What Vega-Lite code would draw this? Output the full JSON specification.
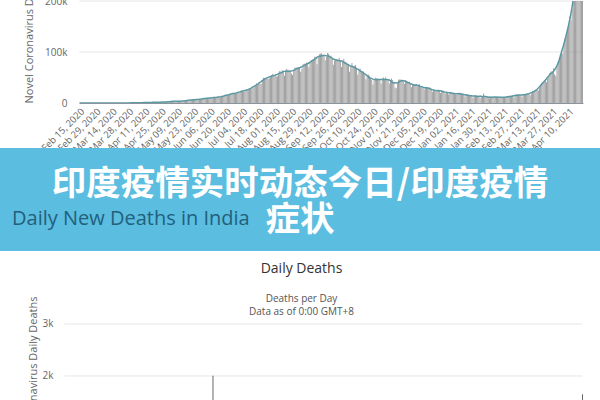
{
"$schema": "https://vega.github.io/schema/vega-lite/v6.json",
"padding": {"top": -53, "left": 0, "right": 0, "bottom": 0},
"background": "white",
"config": {
 "font": "Open Sans",
 "view": {"stroke": null},
 "axis": {"labelColor": "#666", "titleColor": "#666", "titleFontWeight": "normal", "labelFont": "Open Sans", "titleFont": "Open Sans"},
 "title": {"font": "Open Sans"}
},
"datasets": {"india": [
{"d":"2020-02-15","c":0,"m":0},{"d":"2020-02-16","c":0,"m":0},{"d":"2020-02-17","c":0,"m":0},{"d":"2020-02-18","c":0,"m":0},{"d":"2020-02-19","c":0,"m":0},{"d":"2020-02-20","c":0,"m":0},{"d":"2020-02-21","c":0,"m":0},{"d":"2020-02-22","c":0,"m":0},{"d":"2020-02-23","c":0,"m":0},{"d":"2020-02-24","c":0,"m":0},{"d":"2020-02-25","c":0,"m":0},{"d":"2020-02-26","c":0,"m":0},{"d":"2020-02-27","c":0,"m":0},{"d":"2020-02-28","c":0,"m":0},{"d":"2020-02-29","c":0,"m":0},
{"d":"2020-03-01","c":0,"m":0},{"d":"2020-03-02","c":2,"m":0},{"d":"2020-03-03","c":1,"m":0},{"d":"2020-03-04","c":22,"m":0},{"d":"2020-03-05","c":2,"m":0},{"d":"2020-03-06","c":1,"m":0},{"d":"2020-03-07","c":3,"m":0},{"d":"2020-03-08","c":5,"m":0},{"d":"2020-03-09","c":9,"m":0},{"d":"2020-03-10","c":15,"m":0},{"d":"2020-03-11","c":8,"m":1},{"d":"2020-03-12","c":10,"m":0},{"d":"2020-03-13","c":10,"m":1},{"d":"2020-03-14","c":23,"m":0},{"d":"2020-03-15","c":12,"m":0},{"d":"2020-03-16","c":14,"m":0},{"d":"2020-03-17","c":25,"m":1},{"d":"2020-03-18","c":28,"m":0},{"d":"2020-03-19","c":44,"m":1},{"d":"2020-03-20","c":63,"m":0},{"d":"2020-03-21","c":79,"m":1},{"d":"2020-03-22","c":100,"m":3},{"d":"2020-03-23","c":90,"m":2},{"d":"2020-03-24","c":75,"m":1},{"d":"2020-03-25","c":105,"m":2},{"d":"2020-03-26","c":87,"m":6},{"d":"2020-03-27","c":153,"m":3},{"d":"2020-03-28","c":149,"m":6},{"d":"2020-03-29","c":106,"m":3},{"d":"2020-03-30","c":227,"m":13},{"d":"2020-03-31","c":146,"m":6},
{"d":"2020-04-01","c":601,"m":15},{"d":"2020-04-02","c":545,"m":18},{"d":"2020-04-03","c":478,"m":13},{"d":"2020-04-04","c":513,"m":15},{"d":"2020-04-05","c":570,"m":13},{"d":"2020-04-06","c":561,"m":32},{"d":"2020-04-07","c":569,"m":30},{"d":"2020-04-08","c":485,"m":13},{"d":"2020-04-09","c":591,"m":35},{"d":"2020-04-10","c":896,"m":40},{"d":"2020-04-11","c":768,"m":32},{"d":"2020-04-12","c":918,"m":34},{"d":"2020-04-13","c":1248,"m":35},{"d":"2020-04-14","c":1034,"m":38},{"d":"2020-04-15","c":835,"m":29},{"d":"2020-04-16","c":1108,"m":37},{"d":"2020-04-17","c":922,"m":28},{"d":"2020-04-18","c":1370,"m":35},{"d":"2020-04-19","c":1893,"m":31},{"d":"2020-04-20","c":924,"m":29},{"d":"2020-04-21","c":1541,"m":54},{"d":"2020-04-22","c":1290,"m":44},{"d":"2020-04-23","c":1707,"m":40},{"d":"2020-04-24","c":1752,"m":37},{"d":"2020-04-25","c":1838,"m":57},{"d":"2020-04-26","c":1607,"m":56},{"d":"2020-04-27","c":1568,"m":58},{"d":"2020-04-28","c":1902,"m":71},{"d":"2020-04-29","c":1705,"m":67},{"d":"2020-04-30","c":1801,"m":77},
{"d":"2020-05-01","c":2396,"m":77},{"d":"2020-05-02","c":2564,"m":92},{"d":"2020-05-03","c":2952,"m":140},{"d":"2020-05-04","c":3656,"m":103},{"d":"2020-05-05","c":2971,"m":98},{"d":"2020-05-06","c":3602,"m":128},{"d":"2020-05-07","c":3344,"m":96},{"d":"2020-05-08","c":3339,"m":97},{"d":"2020-05-09","c":3175,"m":115},{"d":"2020-05-10","c":4311,"m":120},{"d":"2020-05-11","c":3592,"m":87},{"d":"2020-05-12","c":3562,"m":121},{"d":"2020-05-13","c":3726,"m":134},{"d":"2020-05-14","c":3991,"m":100},{"d":"2020-05-15","c":3808,"m":104},{"d":"2020-05-16","c":4794,"m":120},{"d":"2020-05-17","c":5050,"m":157},{"d":"2020-05-18","c":4630,"m":134},{"d":"2020-05-19","c":6147,"m":133},{"d":"2020-05-20","c":5553,"m":137},{"d":"2020-05-21","c":6198,"m":148},{"d":"2020-05-22","c":6629,"m":147},{"d":"2020-05-23","c":6154,"m":142},{"d":"2020-05-24","c":6868,"m":156},{"d":"2020-05-25","c":7113,"m":170},{"d":"2020-05-26","c":6414,"m":147},{"d":"2020-05-27","c":6566,"m":194},{"d":"2020-05-28","c":7246,"m":175},{"d":"2020-05-29","c":7254,"m":265},{"d":"2020-05-30","c":8336,"m":193},{"d":"2020-05-31","c":8782,"m":223},
{"d":"2020-06-01","c":7761,"m":201},{"d":"2020-06-02","c":8821,"m":222},{"d":"2020-06-03","c":9633,"m":259},{"d":"2020-06-04","c":9889,"m":273},{"d":"2020-06-05","c":9471,"m":286},{"d":"2020-06-06","c":10438,"m":297},{"d":"2020-06-07","c":10864,"m":261},{"d":"2020-06-08","c":8442,"m":265},{"d":"2020-06-09","c":9987,"m":331},{"d":"2020-06-10","c":10956,"m":279},{"d":"2020-06-11","c":11929,"m":396},{"d":"2020-06-12","c":11320,"m":386},{"d":"2020-06-13","c":12023,"m":311},{"d":"2020-06-14","c":11502,"m":325},{"d":"2020-06-15","c":10667,"m":380},{"d":"2020-06-16","c":12881,"m":334},{"d":"2020-06-17","c":13586,"m":2003},{"d":"2020-06-18","c":14516,"m":336},{"d":"2020-06-19","c":15413,"m":375},{"d":"2020-06-20","c":14821,"m":306},{"d":"2020-06-21","c":14933,"m":312},{"d":"2020-06-22","c":15968,"m":465},{"d":"2020-06-23","c":16922,"m":418},{"d":"2020-06-24","c":17296,"m":407},{"d":"2020-06-25","c":18552,"m":384},{"d":"2020-06-26","c":19906,"m":410},{"d":"2020-06-27","c":19459,"m":380},{"d":"2020-06-28","c":18522,"m":418},{"d":"2020-06-29","c":18653,"m":507},{"d":"2020-06-30","c":19148,"m":434},
{"d":"2020-07-01","c":20903,"m":379},{"d":"2020-07-02","c":22771,"m":442},{"d":"2020-07-03","c":24850,"m":613},{"d":"2020-07-04","c":24248,"m":425},{"d":"2020-07-05","c":22252,"m":467},{"d":"2020-07-06","c":22752,"m":482},{"d":"2020-07-07","c":24879,"m":487},{"d":"2020-07-08","c":26506,"m":475},{"d":"2020-07-09","c":27114,"m":519},{"d":"2020-07-10","c":28637,"m":551},{"d":"2020-07-11","c":28701,"m":500},{"d":"2020-07-12","c":28498,"m":553},{"d":"2020-07-13","c":29429,"m":582},{"d":"2020-07-14","c":32695,"m":606},{"d":"2020-07-15","c":34956,"m":687},{"d":"2020-07-16","c":38902,"m":543},{"d":"2020-07-17","c":34884,"m":671},{"d":"2020-07-18","c":40425,"m":681},{"d":"2020-07-19","c":37148,"m":587},{"d":"2020-07-20","c":37724,"m":648},{"d":"2020-07-21","c":45720,"m":1129},{"d":"2020-07-22","c":49310,"m":740},{"d":"2020-07-23","c":48916,"m":757},{"d":"2020-07-24","c":48661,"m":705},{"d":"2020-07-25","c":49931,"m":708},{"d":"2020-07-26","c":47703,"m":654},{"d":"2020-07-27","c":48513,"m":768},{"d":"2020-07-28","c":52123,"m":775},{"d":"2020-07-29","c":55079,"m":779},{"d":"2020-07-30","c":57118,"m":764},{"d":"2020-07-31","c":54735,"m":853},
{"d":"2020-08-01","c":52972,"m":771},{"d":"2020-08-02","c":52050,"m":803},{"d":"2020-08-03","c":52509,"m":857},{"d":"2020-08-04","c":56282,"m":904},{"d":"2020-08-05","c":62538,"m":886},{"d":"2020-08-06","c":61537,"m":933},{"d":"2020-08-07","c":64399,"m":861},{"d":"2020-08-08","c":62064,"m":1007},{"d":"2020-08-09","c":53601,"m":871},{"d":"2020-08-10","c":60963,"m":834},{"d":"2020-08-11","c":66999,"m":942},{"d":"2020-08-12","c":64553,"m":1007},{"d":"2020-08-13","c":65002,"m":996},{"d":"2020-08-14","c":63490,"m":944},{"d":"2020-08-15","c":57981,"m":941},{"d":"2020-08-16","c":55079,"m":876},{"d":"2020-08-17","c":64531,"m":1092},{"d":"2020-08-18","c":69652,"m":977},{"d":"2020-08-19","c":68898,"m":983},{"d":"2020-08-20","c":69878,"m":945},{"d":"2020-08-21","c":70488,"m":912},{"d":"2020-08-22","c":69239,"m":836},{"d":"2020-08-23","c":61408,"m":848},{"d":"2020-08-24","c":67151,"m":1059},{"d":"2020-08-25","c":75760,"m":1023},{"d":"2020-08-26","c":77266,"m":1057},{"d":"2020-08-27","c":76472,"m":1021},{"d":"2020-08-28","c":78761,"m":948},{"d":"2020-08-29","c":78512,"m":971},{"d":"2020-08-30","c":69921,"m":819},{"d":"2020-08-31","c":78357,"m":1045},
{"d":"2020-09-01","c":83883,"m":1043},{"d":"2020-09-02","c":83341,"m":1096},{"d":"2020-09-03","c":86432,"m":1089},{"d":"2020-09-04","c":90632,"m":1065},{"d":"2020-09-05","c":90802,"m":1016},{"d":"2020-09-06","c":75809,"m":1133},{"d":"2020-09-07","c":89706,"m":1115},{"d":"2020-09-08","c":95735,"m":1172},{"d":"2020-09-09","c":96551,"m":1209},{"d":"2020-09-10","c":97570,"m":1201},{"d":"2020-09-11","c":94372,"m":1114},{"d":"2020-09-12","c":92071,"m":1136},{"d":"2020-09-13","c":83809,"m":1054},{"d":"2020-09-14","c":90123,"m":1290},{"d":"2020-09-15","c":97894,"m":1132},{"d":"2020-09-16","c":96424,"m":1174},{"d":"2020-09-17","c":93337,"m":1247},{"d":"2020-09-18","c":92605,"m":1133},{"d":"2020-09-19","c":86961,"m":1130},{"d":"2020-09-20","c":75083,"m":1053},{"d":"2020-09-21","c":83347,"m":1085},{"d":"2020-09-22","c":86508,"m":1129},{"d":"2020-09-23","c":86052,"m":1141},{"d":"2020-09-24","c":85362,"m":1089},{"d":"2020-09-25","c":88600,"m":1124},{"d":"2020-09-26","c":82170,"m":1039},{"d":"2020-09-27","c":70589,"m":776},{"d":"2020-09-28","c":80472,"m":1179},{"d":"2020-09-29","c":86821,"m":1181},{"d":"2020-09-30","c":81484,"m":1095},
{"d":"2020-10-01","c":79476,"m":1069},{"d":"2020-10-02","c":75829,"m":940},{"d":"2020-10-03","c":74442,"m":903},{"d":"2020-10-04","c":61267,"m":884},{"d":"2020-10-05","c":72049,"m":986},{"d":"2020-10-06","c":78524,"m":971},{"d":"2020-10-07","c":70496,"m":964},{"d":"2020-10-08","c":73272,"m":926},{"d":"2020-10-09","c":74383,"m":918},{"d":"2020-10-10","c":66732,"m":816},{"d":"2020-10-11","c":55342,"m":706},{"d":"2020-10-12","c":63509,"m":730},{"d":"2020-10-13","c":67708,"m":680},{"d":"2020-10-14","c":63371,"m":895},{"d":"2020-10-15","c":62212,"m":837},{"d":"2020-10-16","c":61871,"m":1033},{"d":"2020-10-17","c":55722,"m":579},{"d":"2020-10-18","c":46790,"m":587},{"d":"2020-10-19","c":54044,"m":717},{"d":"2020-10-20","c":55839,"m":702},{"d":"2020-10-21","c":53370,"m":650},{"d":"2020-10-22","c":50129,"m":578},{"d":"2020-10-23","c":45149,"m":480},{"d":"2020-10-24","c":36470,"m":488},{"d":"2020-10-25","c":43893,"m":508},{"d":"2020-10-26","c":49881,"m":517},{"d":"2020-10-27","c":48648,"m":563},{"d":"2020-10-28","c":48268,"m":551},{"d":"2020-10-29","c":46963,"m":470},{"d":"2020-10-30","c":45230,"m":496},{"d":"2020-10-31","c":38310,"m":490},
{"d":"2020-11-01","c":46254,"m":514},{"d":"2020-11-02","c":50210,"m":704},{"d":"2020-11-03","c":47638,"m":670},{"d":"2020-11-04","c":50357,"m":577},{"d":"2020-11-05","c":45674,"m":559},{"d":"2020-11-06","c":44684,"m":520},{"d":"2020-11-07","c":38073,"m":448},{"d":"2020-11-08","c":44281,"m":512},{"d":"2020-11-09","c":47905,"m":550},{"d":"2020-11-10","c":44879,"m":547},{"d":"2020-11-11","c":41109,"m":447},{"d":"2020-11-12","c":30548,"m":435},{"d":"2020-11-13","c":29164,"m":449},{"d":"2020-11-14","c":38617,"m":474},{"d":"2020-11-15","c":45576,"m":585},{"d":"2020-11-16","c":45882,"m":584},{"d":"2020-11-17","c":46232,"m":564},{"d":"2020-11-18","c":45209,"m":501},{"d":"2020-11-19","c":44059,"m":511},{"d":"2020-11-20","c":37975,"m":480},{"d":"2020-11-21","c":44376,"m":481},{"d":"2020-11-22","c":43082,"m":492},{"d":"2020-11-23","c":41322,"m":485},{"d":"2020-11-24","c":41810,"m":496},{"d":"2020-11-25","c":38772,"m":443},{"d":"2020-11-26","c":31118,"m":482},{"d":"2020-11-27","c":36604,"m":501},{"d":"2020-11-28","c":35551,"m":526},{"d":"2020-11-29","c":36595,"m":540},{"d":"2020-11-30","c":35663,"m":413},
{"d":"2020-12-01","c":32981,"m":391},{"d":"2020-12-02","c":36011,"m":482},{"d":"2020-12-03","c":36652,"m":512},{"d":"2020-12-04","c":30254,"m":391},{"d":"2020-12-05","c":31521,"m":412},{"d":"2020-12-06","c":29398,"m":414},{"d":"2020-12-07","c":26567,"m":385},{"d":"2020-12-08","c":32080,"m":402},{"d":"2020-12-09","c":31522,"m":412},{"d":"2020-12-10","c":29398,"m":414},{"d":"2020-12-11","c":30006,"m":442},{"d":"2020-12-12","c":30254,"m":391},{"d":"2020-12-13","c":27071,"m":336},{"d":"2020-12-14","c":22065,"m":354},{"d":"2020-12-15","c":26382,"m":387},{"d":"2020-12-16","c":24010,"m":355},{"d":"2020-12-17","c":22890,"m":338},{"d":"2020-12-18","c":25153,"m":347},{"d":"2020-12-19","c":26624,"m":341},{"d":"2020-12-20","c":24337,"m":333},{"d":"2020-12-21","c":19556,"m":301},{"d":"2020-12-22","c":23950,"m":333},{"d":"2020-12-23","c":24712,"m":312},{"d":"2020-12-24","c":23067,"m":336},{"d":"2020-12-25","c":18732,"m":279},{"d":"2020-12-26","c":22272,"m":251},{"d":"2020-12-27","c":20021,"m":279},{"d":"2020-12-28","c":16432,"m":252},{"d":"2020-12-29","c":20550,"m":286},{"d":"2020-12-30","c":21822,"m":299},{"d":"2020-12-31","c":20035,"m":256},
{"d":"2021-01-01","c":19078,"m":224},{"d":"2021-01-02","c":18177,"m":217},{"d":"2021-01-03","c":16504,"m":214},{"d":"2021-01-04","c":16375,"m":201},{"d":"2021-01-05","c":18088,"m":264},{"d":"2021-01-06","c":20346,"m":222},{"d":"2021-01-07","c":18139,"m":234},{"d":"2021-01-08","c":18222,"m":228},{"d":"2021-01-09","c":18645,"m":201},{"d":"2021-01-10","c":16311,"m":161},{"d":"2021-01-11","c":12584,"m":167},{"d":"2021-01-12","c":15968,"m":202},{"d":"2021-01-13","c":16946,"m":198},{"d":"2021-01-14","c":15590,"m":191},{"d":"2021-01-15","c":15158,"m":175},{"d":"2021-01-16","c":15144,"m":181},{"d":"2021-01-17","c":13788,"m":145},{"d":"2021-01-18","c":10064,"m":137},{"d":"2021-01-19","c":13823,"m":162},{"d":"2021-01-20","c":15223,"m":151},{"d":"2021-01-21","c":14545,"m":163},{"d":"2021-01-22","c":14256,"m":152},{"d":"2021-01-23","c":13203,"m":131},{"d":"2021-01-24","c":9102,"m":117},{"d":"2021-01-25","c":12689,"m":137},{"d":"2021-01-26","c":11666,"m":123},{"d":"2021-01-27","c":18855,"m":163},{"d":"2021-01-28","c":11039,"m":110},{"d":"2021-01-29","c":13083,"m":137},{"d":"2021-01-30","c":12059,"m":107},{"d":"2021-01-31","c":11427,"m":118},
{"d":"2021-02-01","c":8635,"m":94},{"d":"2021-02-02","c":11039,"m":110},{"d":"2021-02-03","c":12899,"m":107},{"d":"2021-02-04","c":11713,"m":95},{"d":"2021-02-05","c":12408,"m":120},{"d":"2021-02-06","c":11713,"m":95},{"d":"2021-02-07","c":12059,"m":78},{"d":"2021-02-08","c":11831,"m":84},{"d":"2021-02-09","c":9110,"m":78},{"d":"2021-02-10","c":11067,"m":94},{"d":"2021-02-11","c":12923,"m":108},{"d":"2021-02-12","c":9309,"m":87},{"d":"2021-02-13","c":12143,"m":103},{"d":"2021-02-14","c":11649,"m":90},{"d":"2021-02-15","c":9121,"m":81},{"d":"2021-02-16","c":11610,"m":100},{"d":"2021-02-17","c":12881,"m":101},{"d":"2021-02-18","c":13193,"m":97},{"d":"2021-02-19","c":13993,"m":101},{"d":"2021-02-20","c":14264,"m":90},{"d":"2021-02-21","c":14199,"m":83},{"d":"2021-02-22","c":10584,"m":78},{"d":"2021-02-23","c":13742,"m":104},{"d":"2021-02-24","c":16738,"m":138},{"d":"2021-02-25","c":16577,"m":120},{"d":"2021-02-26","c":16488,"m":113},{"d":"2021-02-27","c":16752,"m":113},{"d":"2021-02-28","c":15510,"m":106},
{"d":"2021-03-01","c":12286,"m":91},{"d":"2021-03-02","c":14989,"m":98},{"d":"2021-03-03","c":17407,"m":89},{"d":"2021-03-04","c":16838,"m":113},{"d":"2021-03-05","c":18327,"m":108},{"d":"2021-03-06","c":18711,"m":100},{"d":"2021-03-07","c":18599,"m":97},{"d":"2021-03-08","c":15388,"m":77},{"d":"2021-03-09","c":17921,"m":133},{"d":"2021-03-10","c":22854,"m":126},{"d":"2021-03-11","c":23285,"m":117},{"d":"2021-03-12","c":24882,"m":140},{"d":"2021-03-13","c":25320,"m":161},{"d":"2021-03-14","c":26291,"m":118},{"d":"2021-03-15","c":24492,"m":131},{"d":"2021-03-16","c":28903,"m":188},{"d":"2021-03-17","c":35871,"m":172},{"d":"2021-03-18","c":39726,"m":154},{"d":"2021-03-19","c":40953,"m":188},{"d":"2021-03-20","c":43846,"m":197},{"d":"2021-03-21","c":46951,"m":212},{"d":"2021-03-22","c":40715,"m":199},{"d":"2021-03-23","c":47262,"m":275},{"d":"2021-03-24","c":53476,"m":251},{"d":"2021-03-25","c":59118,"m":257},{"d":"2021-03-26","c":62258,"m":291},{"d":"2021-03-27","c":62714,"m":312},{"d":"2021-03-28","c":68020,"m":291},{"d":"2021-03-29","c":56211,"m":271},{"d":"2021-03-30","c":53480,"m":354},{"d":"2021-03-31","c":72330,"m":459},
{"d":"2021-04-01","c":81466,"m":469},{"d":"2021-04-02","c":89129,"m":714},{"d":"2021-04-03","c":93249,"m":513},{"d":"2021-04-04","c":103558,"m":478},{"d":"2021-04-05","c":96982,"m":446},{"d":"2021-04-06","c":115736,"m":630},{"d":"2021-04-07","c":126789,"m":685},{"d":"2021-04-08","c":131968,"m":780},{"d":"2021-04-09","c":145384,"m":794},{"d":"2021-04-10","c":152879,"m":839},{"d":"2021-04-11","c":168912,"m":904},{"d":"2021-04-12","c":161736,"m":879},{"d":"2021-04-13","c":184372,"m":1027},{"d":"2021-04-14","c":200739,"m":1038},{"d":"2021-04-15","c":217353,"m":1185},{"d":"2021-04-16","c":234692,"m":1341},{"d":"2021-04-17","c":261500,"m":1501},{"d":"2021-04-18","c":273810,"m":1501},{"d":"2021-04-19","c":259170,"m":1650},{"d":"2021-04-20","c":295041,"m":null},{"d":"2021-04-21","c":314835,"m":null},{"d":"2021-04-22","c":332730,"m":null}
]},
"bounds": "flush",
"spacing": 45,
"vconcat": [
 {"width": 583, "height": 102,
  "data": {"name": "india"},
  "encoding": {"x": {"field": "d", "type": "ordinal", "sort": "ascending", "scale": {"range": [79, 583], "paddingInner": 0.3, "paddingOuter": 0},
    "axis": {"values": ["2020-02-15","2020-02-29","2020-03-14","2020-03-28","2020-04-11","2020-04-25","2020-05-09","2020-05-23","2020-06-06","2020-06-20","2020-07-04","2020-07-18","2020-08-01","2020-08-15","2020-08-29","2020-09-12","2020-09-26","2020-10-10","2020-10-24","2020-11-07","2020-11-21","2020-12-05","2020-12-19","2021-01-02","2021-01-16","2021-01-30","2021-02-13","2021-02-27","2021-03-13","2021-03-27","2021-04-10"],
      "labelExpr": "utcFormat(toDate(datum.value), '%b %d, %Y')", "labelAngle": -45, "labelFontSize": 9.5, "ticks": false, "labelPadding": 3, "title": null, "domainColor": "#8a949e", "grid": false}}},
  "layer": [
   {"data": {"values": [{}]}, "mark": {"type": "rule", "color": "#e6e6e6", "strokeWidth": 1},
    "encoding": {"y": {"datum": 100000, "type": "quantitative"}, "x": {"datum": "2020-02-15", "type": "ordinal"}, "x2": {"datum": "2021-04-22"}}},
   {"data": {"values": [{}]}, "mark": {"type": "rule", "color": "#e6e6e6", "strokeWidth": 1},
    "encoding": {"y": {"datum": 200000, "type": "quantitative"}, "x": {"datum": "2020-02-15", "type": "ordinal"}, "x2": {"datum": "2021-04-22"}}},
   {"mark": {"type": "bar", "color": "#8f8f8f", "clip": true},
    "encoding": {"y": {"field": "c", "type": "quantitative", "scale": {"domain": [0, 200000], "nice": false},
      "axis": {"values": [0, 100000, 200000], "labelExpr": "datum.value == 0 ? '0' : format(datum.value / 1000, 'd') + 'k'", "offset": -79, "grid": false, "domain": false, "ticks": false, "labelPadding": 12, "labelFontSize": 10,
        "title": "Novel Coronavirus Daily Cases", "titleAnchor": "start", "titlePadding": 10, "titleFontSize": 11}}}},
   {"transform": [{"window": [{"op": "mean", "field": "c", "as": "a"}], "frame": [-3, 3], "sort": [{"field": "d"}]}],
    "mark": {"type": "line", "color": "#5b98a4", "strokeWidth": 1.5, "clip": true},
    "encoding": {"y": {"field": "a", "type": "quantitative", "title": "Novel Coronavirus Daily Cases"}}}
  ]},
 {"width": 600, "height": 103,
  "view": {"fill": "#5bbde0", "stroke": null},
  "data": {"values": [{"t": "印度疫情实时动态今日/印度疫情\n症状"}]},
  "mark": {"type": "text", "font": "Noto Sans CJK SC", "fontSize": 34.5, "fontWeight": "bold", "color": "white", "lineBreak": "\n", "lineHeight": 36, "baseline": "middle", "align": "center", "dy": -15},
  "encoding": {"text": {"field": "t"}},
  "title": {"text": "Daily New Deaths in India", "orient": "bottom", "anchor": "start", "frame": "group", "offset": -42, "dx": 12, "fontSize": 20, "fontWeight": "normal", "color": "#22607c", "font": "Open Sans"}},
 {"width": 583, "height": 184,
  "data": {"name": "india"},
  "transform": [{"filter": "isValid(datum.m)"}],
  "title": {"text": "Daily Deaths", "subtitle": ["Deaths per Day", "Data as of 0:00 GMT+8"], "anchor": "middle", "frame": "group", "dx": 10, "fontSize": 14, "fontWeight": "normal", "color": "#333", "subtitleFontSize": 10, "subtitleColor": "#555", "subtitlePadding": 18, "subtitleLineHeight": 13, "offset": -21},
  "encoding": {"x": {"field": "d", "type": "ordinal", "sort": "ascending", "scale": {"range": [64, 583], "paddingInner": 0.3, "paddingOuter": 0},
    "axis": {"values": ["2020-02-15","2020-02-29","2020-03-14","2020-03-28","2020-04-11","2020-04-25","2020-05-09","2020-05-23","2020-06-06","2020-06-20","2020-07-04","2020-07-18","2020-08-01","2020-08-15","2020-08-29","2020-09-12","2020-09-26","2020-10-10","2020-10-24","2020-11-07","2020-11-21","2020-12-05","2020-12-19","2021-01-02","2021-01-16","2021-01-30","2021-02-13","2021-02-27","2021-03-13","2021-03-27","2021-04-10"],
      "labelExpr": "utcFormat(toDate(datum.value), '%b %d, %Y')", "labelAngle": -45, "labelFontSize": 9.5, "ticks": false, "labelPadding": 3, "title": null, "domainColor": "#8a949e", "grid": false}}},
  "layer": [
   {"data": {"values": [{}]}, "mark": {"type": "rule", "color": "#e6e6e6", "strokeWidth": 1},
    "encoding": {"y": {"datum": 1000, "type": "quantitative"}, "x": {"datum": "2020-02-15", "type": "ordinal"}, "x2": {"datum": "2021-04-19"}}},
   {"data": {"values": [{}]}, "mark": {"type": "rule", "color": "#e6e6e6", "strokeWidth": 1},
    "encoding": {"y": {"datum": 2000, "type": "quantitative"}, "x": {"datum": "2020-02-15", "type": "ordinal"}, "x2": {"datum": "2021-04-19"}}},
   {"data": {"values": [{}]}, "mark": {"type": "rule", "color": "#e6e6e6", "strokeWidth": 1},
    "encoding": {"y": {"datum": 3000, "type": "quantitative"}, "x": {"datum": "2020-02-15", "type": "ordinal"}, "x2": {"datum": "2021-04-19"}}},
   {"mark": {"type": "bar", "color": "#4d4d4d"},
    "encoding": {"y": {"field": "m", "type": "quantitative", "scale": {"domain": [0, 3538], "nice": false},
      "axis": {"values": [0, 1000, 2000, 3000], "labelExpr": "datum.value == 0 ? '0' : format(datum.value / 1000, 'd') + 'k'", "offset": -64, "grid": false, "domain": false, "ticks": false, "labelPadding": 11, "labelFontSize": 10,
        "title": "Novel Coronavirus Daily Deaths", "titleAnchor": "end", "titlePadding": 4, "titleFontSize": 11}}}}
  ]}
],
"resolve": {"scale": {"x": "independent", "y": "independent"}}
}
